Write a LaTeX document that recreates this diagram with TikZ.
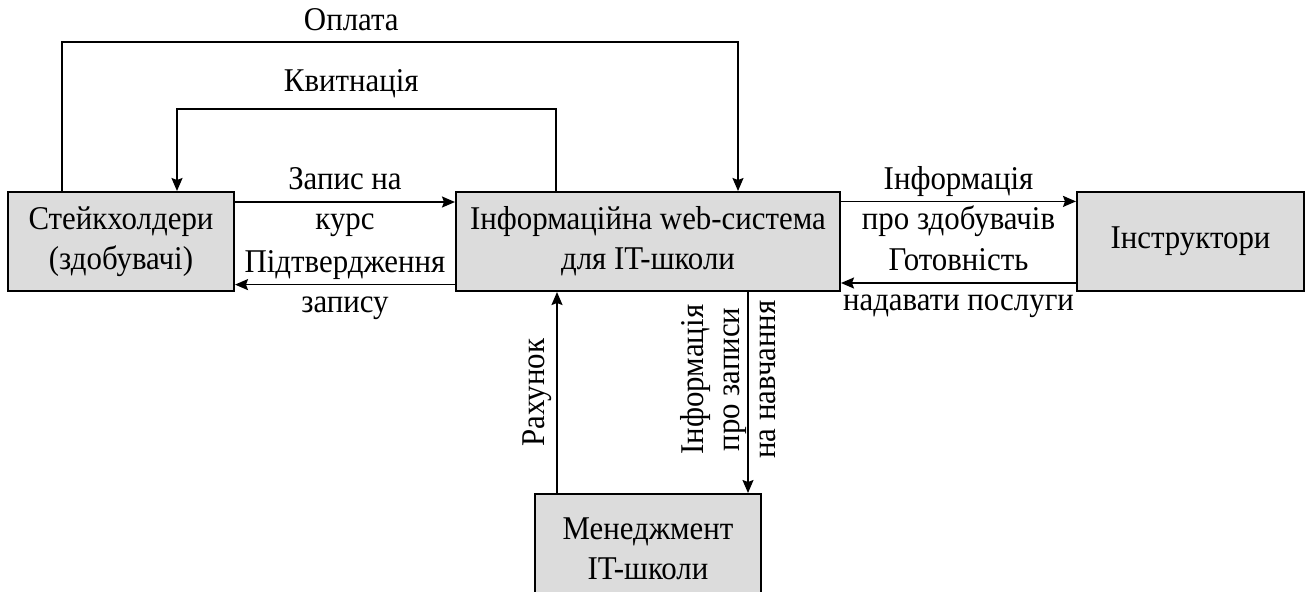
\documentclass[tikz,border=0pt]{standalone}
\usepackage{fontspec}
\setmainfont{Liberation Serif}[FakeStretch=0.93]
\usetikzlibrary{arrows.meta,positioning,calc}
\definecolor{boxgray}{RGB}{220,220,220}

\begin{document}
\begin{tikzpicture}[x=1pt,y=1pt,font=\fontsize{16.6}{20}\selectfont,
    box/.style={draw,line width=1pt,fill=boxgray,minimum height=49.5pt,align=center,inner sep=2pt},
    flow/.style={-{Stealth[length=6.5pt,width=5.5pt,inset=1pt]},line width=0.85pt},
    lbl/.style={align=center,inner sep=1pt}]
      \useasboundingbox (-324,120.75) rectangle (330.5,-174.75);
      \clip (-324,120.75) rectangle (330.5,-174.75);
      \node[box,minimum width=192pt] (sys) {Інформаційна web-система\\для IT-школи};
      \node[box,minimum width=113pt,left=110pt of sys] (stake) {Стейкхолдери\\(здобувачі)};
      \node[box,minimum width=113.5pt,right=117.5pt of sys] (instr) {Інструктори};
      \node[box,minimum width=113pt,minimum height=55pt,below=100.5pt of sys] (mgmt) {Менеджмент\\IT-школи};
      \coordinate (rx) at ([xshift=51pt]sys.south west);
      \coordinate (ix) at ([xshift=146.5pt]sys.south west);
      \draw[flow] ([xshift=27.5pt]stake.north west) -- ++(0,74.5) -| node[lbl,pos=0.214,above=4pt] {Оплата} ([xshift=-51.5pt]sys.north east);
      \draw[flow] ([xshift=50.5pt]sys.north west) -- ++(0,41) -| node[lbl,pos=0.27,above=4pt] {Квитнація} ([xshift=85pt]stake.north west);
      \draw[flow] ([yshift=-5.5pt]stake.north east) -- node[lbl] {Запис на\\курс} ([yshift=-5.5pt]sys.north west);
      \draw[flow] ([yshift=3.7pt]sys.south west) -- node[lbl] {Підтвердження\\запису} ([yshift=3.7pt]stake.south east);
      \draw[flow] ([yshift=-5.2pt]sys.north east) -- node[lbl] {Інформація\\про здобувачів} ([yshift=-5.2pt]instr.north west);
      \draw[flow] ([yshift=4.5pt]instr.south west) -- node[lbl] {Готовність\\надавати послуги} ([yshift=4.5pt]sys.south east);
      \draw[flow] (rx |- mgmt.north) -- node[lbl,midway,rotate=90,anchor=south,inner sep=2pt] {Рахунок} (rx);
      \draw[flow] (ix) -- (ix |- mgmt.north);
      \node[lbl,rotate=90,font=\fontsize{16.6}{18}\selectfont] (zlbl) at ($(sys.south west)+(136.5,-43.75)$) {Інформація\\про записи\\на навчання};
    \end{tikzpicture}
\end{document}
